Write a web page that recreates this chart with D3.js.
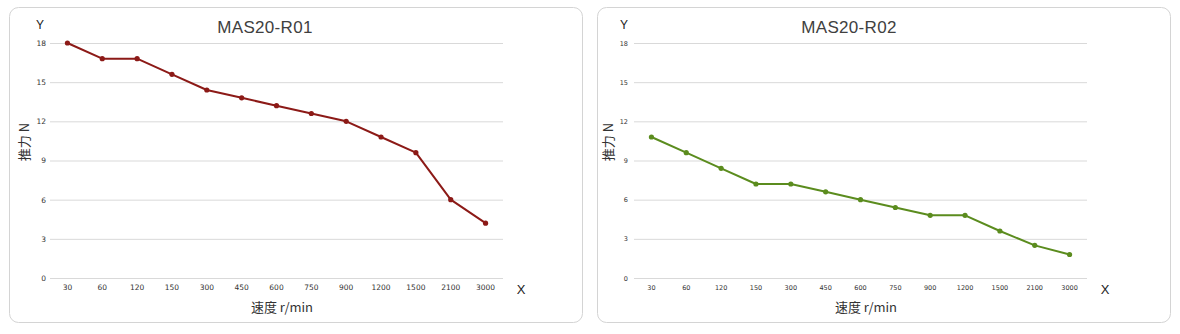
<!DOCTYPE html>
<html>
<head>
<meta charset="utf-8">
<script src="https://cdn.jsdelivr.net/npm/d3@7"></script>
<style>
  html, body { margin: 0; padding: 0; background: #fff; }
  svg { display: block; font-family: "Liberation Sans", Arial, sans-serif; }
</style>
</head>
<body>
<svg id="chart" width="1180" height="334"></svg>
<script>
// Speed categories (r/min) and thrust values (N) for the two models
const speeds = ["30", "60", "120", "150", "300", "450", "600", "750", "900", "1200", "1500", "2100", "3000"];
const thrustR01 = [18, 16.8, 16.8, 15.6, 14.4, 13.8, 13.2, 12.6, 12.0, 10.8, 9.6, 6.0, 4.2];
const thrustR02 = [10.8, 9.6, 8.4, 7.2, 7.2, 6.6, 6.0, 5.4, 4.8, 4.8, 3.6, 2.5, 1.8];
const yTicks = [0, 3, 6, 9, 12, 15, 18];

const svg = d3.select("#chart");

function drawPanel(cfg) {
  const g = svg.append("g").attr("transform", `translate(${cfg.dx},0)`);

  // rounded frame
  svg.append("rect")
    .attr("x", cfg.frameX).attr("y", 7.5)
    .attr("width", 573).attr("height", 315)
    .attr("rx", 9).attr("ry", 9)
    .attr("fill", "none").attr("stroke", "#d4d4d4").attr("stroke-width", 1);

  const left = 50, right = 503, top = 43, bottom = 278;
  const x = d3.scaleBand().domain(speeds).range([left, right]);
  const y = d3.scaleLinear().domain([0, 18]).range([bottom, top]);

  // horizontal grid lines
  g.append("g").attr("transform", `translate(${left},0)`)
    .call(d3.axisLeft(y).tickValues(yTicks).tickSize(-(right - left)).tickFormat(""))
    .call(a => a.select(".domain").remove())
    .call(a => a.selectAll(".tick line").attr("stroke", "#d9d9d9").attr("stroke-width", 1));

  // y tick labels
  g.append("g").attr("transform", `translate(${left},0)`)
    .call(d3.axisLeft(y).tickValues(yTicks).tickSize(0).tickPadding(cfg.tickPad))
    .call(a => a.select(".domain").remove())
    .call(a => a.selectAll("text")
      .attr("font-size", cfg.tickFont).attr("fill", "#333")
      .attr("font-family", "'DejaVu Sans', sans-serif"));

  // x tick labels
  g.append("g").attr("transform", `translate(0,${bottom})`)
    .call(d3.axisBottom(x).tickSize(0).tickPadding(7))
    .call(a => a.select(".domain").remove())
    .call(a => a.selectAll("text")
      .attr("font-size", cfg.tickFont).attr("fill", "#333")
      .attr("font-family", "'DejaVu Sans', sans-serif"));

  // series line and markers
  const line = d3.line()
    .x((d, i) => x(speeds[i]) + x.bandwidth() / 2)
    .y(d => y(d));
  g.append("path").datum(cfg.values)
    .attr("d", line)
    .attr("fill", "none").attr("stroke", cfg.color)
    .attr("stroke-width", 2).attr("stroke-linejoin", "round");
  g.selectAll("circle.pt").data(cfg.values).join("circle")
    .attr("class", "pt")
    .attr("cx", (d, i) => x(speeds[i]) + x.bandwidth() / 2)
    .attr("cy", d => y(d))
    .attr("r", 2.6).attr("fill", cfg.color);

  // title and axis labels
  g.append("text").attr("x", 265).attr("y", 33)
    .attr("text-anchor", "middle").attr("font-size", 17).attr("fill", "#404040")
    .attr("letter-spacing", 0.3)
    .text(cfg.title);
  g.append("text").attr("x", 40).attr("y", 29)
    .attr("text-anchor", "middle").attr("font-size", 12).attr("fill", "#222")
    .text("Y");
  g.append("text").attr("x", 521).attr("y", 294)
    .attr("text-anchor", "middle").attr("font-size", 13).attr("fill", "#222")
    .text("X");
  g.append("text").attr("x", 282).attr("y", 312)
    .attr("text-anchor", "middle").attr("font-size", 13).attr("fill", "#333")
    .attr("font-family", "'Noto Sans CJK SC', 'Noto Sans', sans-serif")
    .text("速度 r/min");
  g.append("text")
    .attr("transform", "translate(29,142) rotate(-90)")
    .attr("text-anchor", "middle").attr("font-size", 13).attr("fill", "#333")
    .attr("font-family", "'Noto Sans CJK SC', 'Noto Sans', sans-serif")
    .text("推力 N");
}

drawPanel({ dx: 0, frameX: 9.5, title: "MAS20-R01", values: thrustR01, color: "#8c1a17", tickFont: 7.5, tickPad: 4 });
drawPanel({ dx: 584, frameX: 597.5, title: "MAS20-R02", values: thrustR02, color: "#5b8c1e", tickFont: 6.5, tickPad: 6 });
</script>
</body>
</html>
